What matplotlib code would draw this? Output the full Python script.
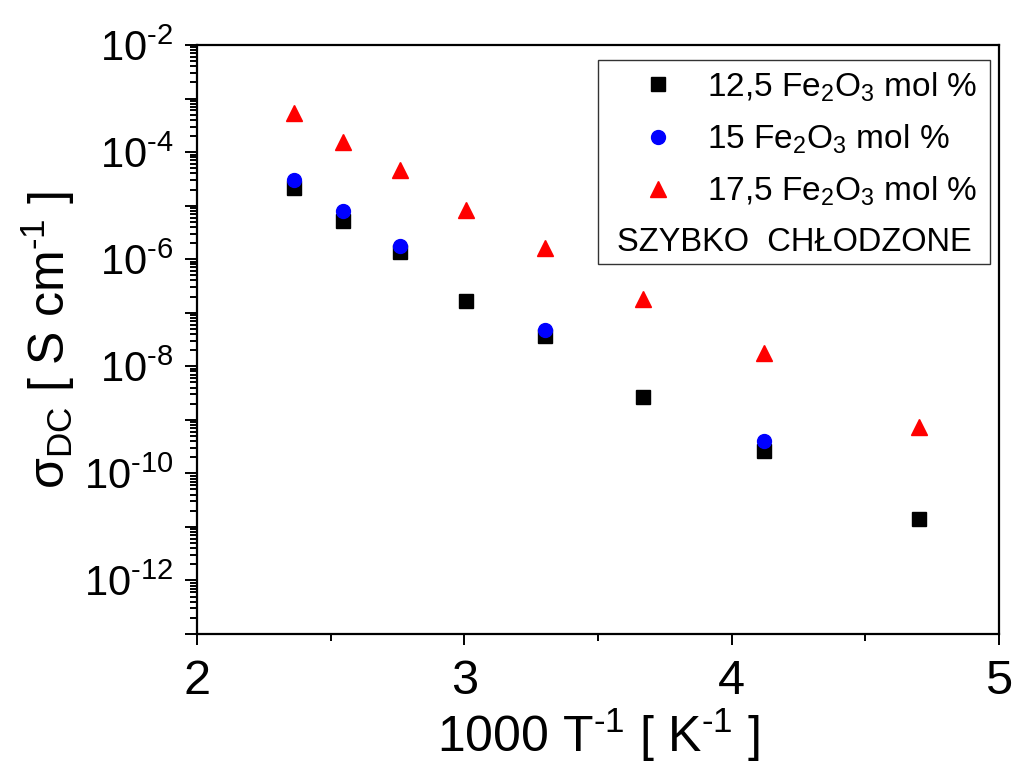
import matplotlib

matplotlib.use("Agg")
import matplotlib.pyplot as plt
from matplotlib.lines import Line2D
from matplotlib.patches import Rectangle
from matplotlib.ticker import FixedLocator, FuncFormatter, LogLocator, NullFormatter

plt.rcParams["font.family"] = ["Liberation Sans", "DejaVu Sans"]
plt.rcParams["mathtext.fontset"] = "custom"
plt.rcParams["mathtext.rm"] = "Liberation Sans"
plt.rcParams["mathtext.it"] = "Liberation Sans:italic"
plt.rcParams["mathtext.default"] = "regular"

# 1000/T for 150, 120, 90, 60, 30, 0, -30, -60 degC
inv_t = [2.364, 2.546, 2.758, 3.006, 3.303, 3.667, 4.12, 4.70]
inv_t_15 = [2.364, 2.546, 2.758, 3.303, 4.12]

sigma_125 = [2.14e-5, 5.1e-6, 1.36e-6, 1.64e-7, 3.64e-8, 2.71e-9, 2.65e-10, 1.40e-11]
sigma_15 = [2.98e-5, 7.94e-6, 1.73e-6, 4.66e-8, 3.95e-10]
sigma_175 = [5.27e-4, 1.55e-4, 4.58e-5, 8.2e-6, 1.64e-6, 1.82e-7, 1.78e-8, 7.44e-10]

labels = [
    "12,5 Fe$_2$O$_3$ mol %",
    "15 Fe$_2$O$_3$ mol %",
    "17,5 Fe$_2$O$_3$ mol %",
]
note = "SZYBKO  CHŁODZONE"

fig = plt.figure(figsize=(10.15, 7.63), dpi=100)
ax = fig.add_axes([197 / 1015, 1 - 634 / 763, 802 / 1015, 589 / 763])

ax.plot(inv_t, sigma_125, ls="none", marker="s", ms=9.4, color="black")
ax.plot(inv_t_15, sigma_15, ls="none", marker="o", ms=10, color="#0000FF")
ax.plot(inv_t, sigma_175, ls="none", marker="^", ms=11.5, color="#FF0000")

ax.set_yscale("log")
ax.set_xlim(2, 5)
ax.set_ylim(1e-13, 1e-2)

ax.xaxis.set_major_locator(FixedLocator([2, 3, 4, 5]))
ax.xaxis.set_minor_locator(FixedLocator([2.5, 3.5, 4.5]))
ax.yaxis.set_major_locator(LogLocator(base=10, numticks=30))
ax.yaxis.set_minor_locator(LogLocator(base=10, subs=range(2, 10), numticks=30))
ax.yaxis.set_minor_formatter(NullFormatter())


def ylab(v, pos):
    import math
    e = int(round(math.log10(v)))
    if e % 2:
        return ""
    return r"$10^{\text{%d}}$" % e


ax.yaxis.set_major_formatter(FuncFormatter(ylab))

for s in ax.spines.values():
    s.set_linewidth(1.6)
ax.tick_params(which="both", direction="out", width=1.4, top=False, right=False)
ax.tick_params(axis="x", which="major", length=8, labelsize=35, pad=10)
ax.tick_params(axis="x", which="minor", length=5)
ax.tick_params(axis="y", which="major", length=9, labelsize=30, pad=8)
ax.tick_params(axis="y", which="minor", length=5)

ax.set_xlabel(r"1000 T$^{\text{-1}}$ [ K$^{\text{-1}}$ ]", fontsize=36, labelpad=2)
ax.set_ylabel(r"$\sigma_{DC}$ [ S cm$^{\text{-1}}$ ]", fontsize=36, labelpad=5)

# legend box with the extra caption inside it
box = Rectangle((0.500, 0.629), 0.489, 0.345, transform=ax.transAxes,
                facecolor="white", edgecolor="#333333", linewidth=1.0, zorder=3)
ax.add_patch(box)

handles = [
    Line2D([], [], ls="none", marker="s", ms=9.4, color="black"),
    Line2D([], [], ls="none", marker="o", ms=10, color="#0000FF"),
    Line2D([], [], ls="none", marker="^", ms=11.5, color="#FF0000"),
]
leg = ax.legend(handles, labels, loc="upper left", bbox_to_anchor=(0.525, 0.980),
                frameon=False, fontsize=24, handlelength=1.6, handletextpad=0.67,
                labelspacing=0.57, borderaxespad=0)
leg.set_zorder(4)
ax.text(0.745, 0.664, note, transform=ax.transAxes, ha="center", va="center",
        fontsize=23.5, zorder=5)

fig.savefig("out.png", dpi=100)
